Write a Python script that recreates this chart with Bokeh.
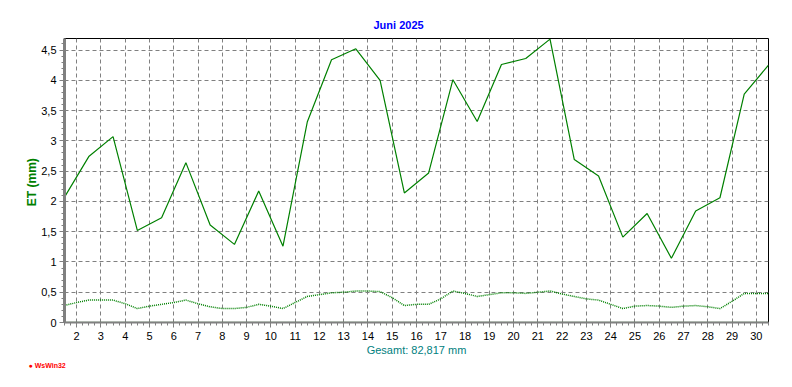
import numpy as np
from bokeh.plotting import figure
from bokeh.models import Range1d, FixedTicker, CustomJSTickFormatter, Title
from bokeh.embed import file_html
from bokeh.resources import INLINE

# ---- data ----
days = list(range(1, 31))
et_daily = [2.07, 2.74, 3.07, 1.52, 1.73, 2.64, 1.61, 1.29, 2.17, 1.26,
            3.31, 4.34, 4.52, 4.00, 2.14, 2.47, 4.01, 3.32, 4.26, 4.36,
            4.68, 2.69, 2.42, 1.41, 1.80, 1.06, 1.84, 2.06, 3.77, 4.25]
# secondary (dotted) series, sampled every half day from day 1.5 to 30.5
et_half = [0.28, 0.33, 0.37, 0.37, 0.37, 0.31, 0.23, 0.27, 0.30, 0.33,
           0.37, 0.31, 0.26, 0.23, 0.23, 0.25, 0.30, 0.27, 0.23, 0.33,
           0.43, 0.46, 0.49, 0.50, 0.52, 0.52, 0.51, 0.41, 0.28, 0.30,
           0.30, 0.39, 0.52, 0.48, 0.43, 0.46, 0.49, 0.49, 0.48, 0.50,
           0.52, 0.47, 0.43, 0.39, 0.37, 0.30, 0.23, 0.27, 0.28, 0.27,
           0.25, 0.27, 0.28, 0.26, 0.23, 0.35, 0.48, 0.48, 0.48]
x_tick_days = list(range(2, 31))
y_ticks = [0, 0.5, 1, 1.5, 2, 2.5, 3, 3.5, 4, 4.5]
title_text = "Juni 2025"
y_label = "ET  (mm)"
total_label = "Gesamt: 82,817 mm"
credit = "● WsWin32"

x_daily = [d + 0.5 for d in days]
x_half = list(np.arange(1.5, 30.5001, 0.5))
zero_line = [0.0 for _ in x_daily]

FONT = "Liberation Sans"
GRAY = "#808080"
GREEN = "#008000"

p = figure(width=776, height=371, output_backend="svg", toolbar_location=None,
           x_range=Range1d(1.5, 30.5), y_range=Range1d(0, 4.69),
           min_border_left=64, min_border_right=8, min_border_top=38,
           min_border_bottom=49)
p.background_fill_color = "white"
p.border_fill_color = "white"
p.outline_line_color = "black"
p.outline_line_width = 1

p.title.text = title_text
p.title.align = "left"
p.title.offset = 309
p.title.text_color = "#0000ff"
p.title.text_font = FONT
p.title.text_font_size = "11px"
p.title.text_font_style = "bold"
p.title.standoff = 15

xt = FixedTicker(ticks=x_tick_days, minor_ticks=list(np.arange(1.5, 30.5001, 0.25)))
yt = FixedTicker(ticks=y_ticks, minor_ticks=list(np.arange(0, 4.69, 0.1)))
p.xaxis.ticker = xt
p.yaxis.ticker = yt
p.xgrid.ticker = xt
p.ygrid.ticker = yt
for g in (p.xgrid, p.ygrid):
    g.grid_line_color = GRAY
    g.grid_line_dash = "4 3"
    g.grid_line_width = 1

p.yaxis.formatter = CustomJSTickFormatter(code="return String(tick).replace('.', ',');")

for ax in (p.xaxis, p.yaxis):
    ax.axis_line_color = GRAY
    ax.major_tick_line_color = GRAY
    ax.minor_tick_line_color = GRAY
    ax.major_tick_in = 0
    ax.minor_tick_in = 0
    ax.major_tick_out = 5
    ax.minor_tick_out = 3
    ax.major_label_text_font = FONT
    ax.major_label_text_font_size = "11px"
    ax.major_label_text_color = "black"
    ax.axis_label_text_font = FONT

p.xaxis.axis_line_width = 2
p.yaxis.axis_line_width = 3
p.xaxis.major_label_standoff = 4
p.yaxis.major_label_standoff = 3

p.xaxis.axis_label = total_label
p.xaxis.axis_label_text_color = "#008080"
p.xaxis.axis_label_text_font_size = "11px"
p.xaxis.axis_label_text_font_style = "normal"
p.xaxis.axis_label_standoff = 1

p.yaxis.axis_label = y_label
p.yaxis.axis_label_text_color = GREEN
p.yaxis.axis_label_text_font_size = "12px"
p.yaxis.axis_label_text_font_style = "bold"
p.yaxis.axis_label_standoff = -1

p.line(x_half, et_half, line_color=GREEN, line_width=1.5, line_dash="1 1")
p.line(x_daily, zero_line, line_color=GREEN, line_width=1.5, line_dash="1 1")
p.line(x_daily, et_daily, line_color=GREEN, line_width=1.2)

p.add_layout(Title(text=credit, align="left", offset=-36, text_color="red",
                   text_font=FONT, text_font_size="7px", text_font_style="bold",
                   standoff=3), "below")

open("out.html", "w").write(file_html(p, INLINE))
